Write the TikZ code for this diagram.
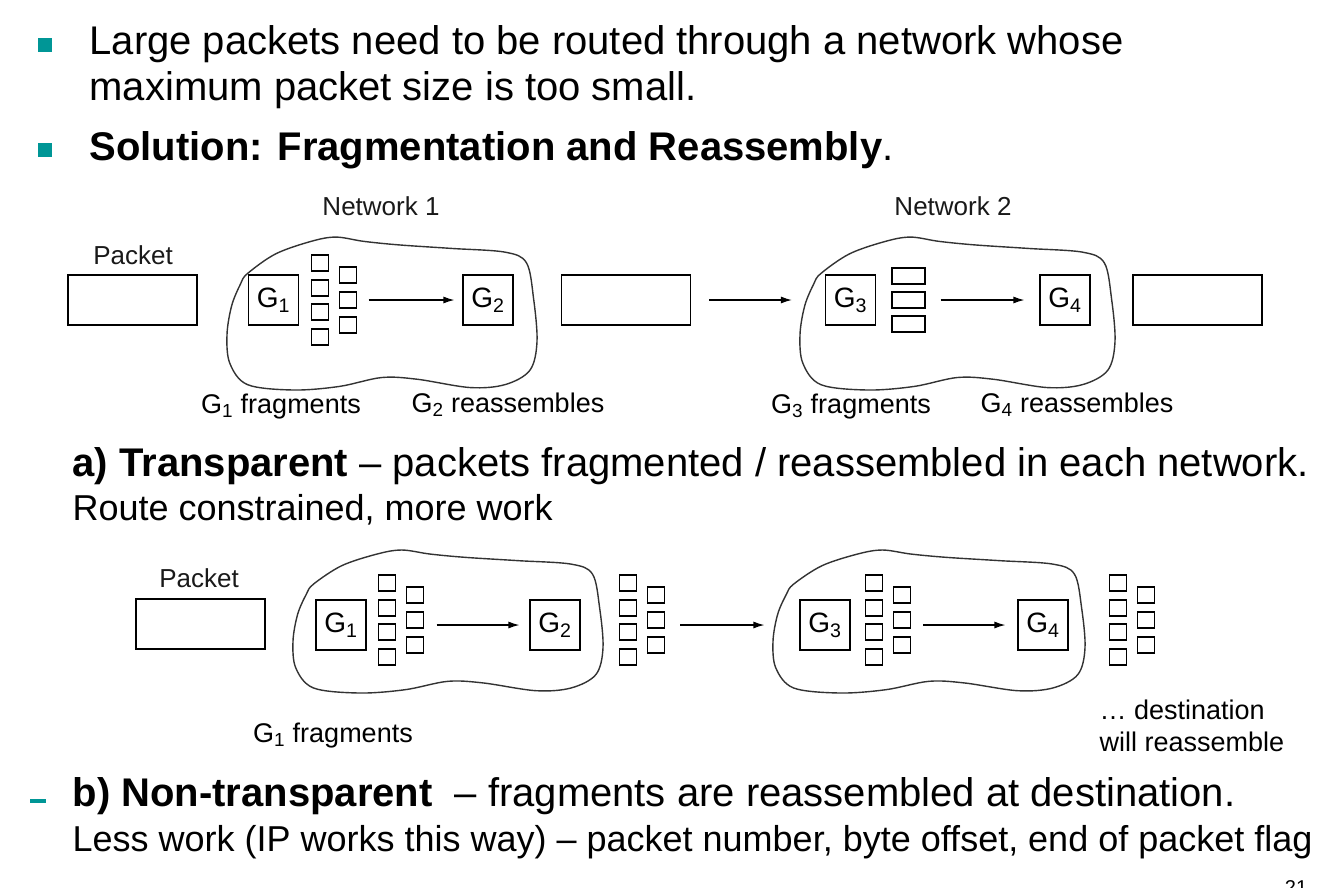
\documentclass[tikz,border=0pt]{standalone}
\usepackage{fontspec}
\setmainfont{Liberation Sans}
\usetikzlibrary{arrows.meta,positioning}
\definecolor{bullteal}{RGB}{0,150,150}

\tikzset{
  gbox/.style={draw, minimum width=50pt, minimum height=50pt, inner sep=0pt, font=\fontsize{28}{28}\selectfont},
  pkt/.style={draw, minimum width=129pt, minimum height=50pt, inner sep=0pt},
  frag/.style={draw, minimum width=17pt, minimum height=16pt, inner sep=0pt},
  widefrag/.style={draw, minimum width=33pt, minimum height=16pt, inner sep=0pt},
  lbl/.style={inner sep=0pt, font=\fontsize{27}{32}\selectfont},
  hdr/.style={inner sep=0pt, font=\fontsize{26}{30}\selectfont, text=black!90},
  cloudline/.style={line width=1.4pt, black!80},
  bigtxt/.style={anchor=base west, inner sep=0pt, font=\fontsize{40}{48}\selectfont},
  smalltxt/.style={anchor=base west, inner sep=0pt, font=\fontsize{36}{44}\selectfont},
}

% network outline, #1,#2 = top left corner, #3 = width, #4 = height
\newcommand{\netcloud}[4]{%
  \begin{scope}[shift={(#1,#2)}, xscale=#3, yscale=#4]
    \draw[cloudline] plot[smooth cycle, tension=0.55] coordinates {
      (0.066,0.244) (0.157,0.116) (0.271,0.035) (0.351,0.007) (0.442,0.035)
      (0.556,0.058) (0.727,0.081) (0.897,0.105) (0.966,0.174) (0.989,0.407)
      (1.0,0.686) (0.977,0.872) (0.897,0.965) (0.784,0.984) (0.613,0.930)
      (0.499,0.919) (0.362,0.977) (0.214,1.0) (0.066,0.965) (0.009,0.826)
      (0,0.640) (0.015,0.453) (0.043,0.314)};
  \end{scope}}

% two columns of small fragments, #1 = name, #2,#3 = centre of first column
\newcommand{\fragstack}[3]{%
  \foreach \dy [count=\i] in {-37,-12,12,37}
    \node[frag] (#1a\i) at (#2,#3+\dy) {};
  \foreach \dy [count=\i] in {-25,0,25}
    \node[frag] (#1b\i) at (#2+28,#3+\dy) {};}

\begin{document}
\begin{tikzpicture}[x=1pt, y=-1pt, line width=1.2pt, >={Latex[length=11pt,width=7pt]}]
\useasboundingbox (0,0) rectangle (1341,887);

% bullets
\fill[bullteal] (38,38) rectangle (52,52);
\node[bigtxt] (l1) at (89,54) {Large packets need to be routed through a network whose};
\node[bigtxt] (l2) at (89,100) {maximum packet size is too small.};
\fill[bullteal] (38,143) rectangle (52,157);
\node[bigtxt] (l3) at (89,160) {\textbf{Solution: Fragmentation and Reassembly}.};

% a) transparent
\netcloud{227}{236}{310}{154}
\netcloud{800}{236}{315}{154}
\node[hdr] (n1) at (381,206) {Network 1};
\node[hdr] (n2) at (953,206) {Network 2};
\node[hdr] (pa) at (133,255) {Packet};

\node[pkt] (p1) at (132.5,300) {};
\node[gbox] (g1) at (273.5,300) {G\textsubscript{1}};
\fragstack{ta}{320}{300}
\node[gbox] (g2) at (488,300) {G\textsubscript{2}};
\node[pkt] (p2) at (626,300) {};
\node[gbox] (g3) at (850.5,300) {G\textsubscript{3}};
\foreach \y [count=\i] in {276,300,324}
  \node[widefrag] (w\i) at (908.5,\y) {};
\node[gbox] (g4) at (1065,300) {G\textsubscript{4}};
\node[pkt] (p3) at (1197.5,300) {};

\draw[->, shorten <=11.5pt, shorten >=8pt] (tab2.east) -- (g2.west);
\draw[->, shorten <=18pt, shorten >=33pt] (p2.east) -- (g3.west);
\draw[->, shorten <=15pt, shorten >=15pt] (w2.east) -- (g4.west);

\node[lbl, anchor=base] (f1) at (281,413) {G\textsubscript{1} fragments};
\node[lbl, anchor=base] (r2) at (508,412) {G\textsubscript{2} reassembles};
\node[lbl, anchor=base] (f3) at (851,413) {G\textsubscript{3} fragments};
\node[lbl, anchor=base] (r4) at (1077,412) {G\textsubscript{4} reassembles};

\node[bigtxt] (ta) at (72,476) {\textbf{a) Transparent} -- packets fragmented / reassembled in each network.};
\node[smalltxt] (tb) at (72,520) {Route constrained, more work};

% b) non-transparent
\netcloud{293}{549}{310}{144}
\netcloud{773}{549}{312}{144}
\node[hdr] (pb) at (199,578) {Packet};

\node[pkt] (q1) at (200.5,624) {};
\node[gbox] (h1) at (341,625) {G\textsubscript{1}};
\fragstack{ba}{387}{620}
\node[gbox] (h2) at (555,625) {G\textsubscript{2}};
\fragstack{bb}{628}{620}
\node[gbox] (h3) at (825,625) {G\textsubscript{3}};
\fragstack{bc}{874}{620}
\node[gbox] (h4) at (1043,625) {G\textsubscript{4}};
\fragstack{bd}{1118}{620}

\draw[->, shorten <=12.5pt, shorten >=10pt] (bab2.east |- h2.west) -- (h2.west);
\draw[->, shorten <=15pt, shorten >=35pt] (bbb2.east |- h3.west) -- (h3.west);
\draw[->, shorten <=12pt, shorten >=12pt] (bcb2.east |- h4.west) -- (h4.west);

\node[lbl, anchor=base] (f5) at (333,742) {G\textsubscript{1} fragments};
\node[lbl, anchor=base west] (d1) at (1099,719) {… destination};
\node[lbl, anchor=base west] (d2) at (1099,751) {will reassemble};

\fill[bullteal] (30,799) rectangle (46,803);
\node[bigtxt] (tc) at (72,806) {\textbf{b) Non-transparent}\ \ -- fragments are reassembled at destination.};
\node[smalltxt] (td) at (72,851) {Less work (IP works this way) -- packet number, byte offset, end of packet flag};
\node[inner sep=0pt, anchor=base, font=\fontsize{20}{20}\selectfont] (pg) at (1296,894) {21};
\end{tikzpicture}
\end{document}
